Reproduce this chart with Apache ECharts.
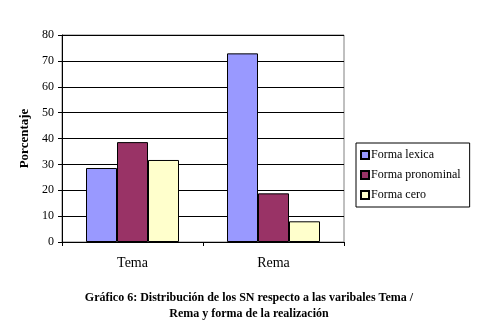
<!DOCTYPE html>
<html>
<head>
<meta charset="utf-8">
<script src="https://cdn.jsdelivr.net/npm/echarts@6/dist/echarts.min.js"></script>
<style>
  html, body { margin: 0; padding: 0; background: #ffffff; }
  #chart { width: 480px; height: 327px; }
</style>
</head>
<body>
<div id="chart"></div>
<script>
// Categories and percentages per form of realisation
const categories = ['Tema', 'Rema'];
const formaLexica = [28.6, 72.9];
const formaPronominal = [38.6, 18.8];
const formaCero = [31.7, 8.0];
const yTicks = { min: 0, max: 80, interval: 10 };

const serif = '"Liberation Serif", "Times New Roman", serif';

const chart = echarts.init(document.getElementById('chart'), null, { renderer: 'canvas' });

function barSeries(name, data, color) {
  return {
    name: name,
    type: 'bar',
    data: data,
    barWidth: 31,
    barGap: '0%',
    itemStyle: { color: color, borderColor: '#000000', borderWidth: 1 },
    emphasis: { disabled: true },
    animation: false
  };
}

chart.setOption({
  backgroundColor: '#ffffff',
  animation: false,
  title: {
    text: 'Gráfico 6: Distribución de los SN respecto a las varibales Tema /\nRema y forma de la realización',
    left: 244,
    textAlign: 'center',
    top: 285,
    textStyle: {
      fontFamily: serif,
      fontSize: 12,
      fontWeight: 'bold',
      color: '#000000',
      lineHeight: 16
    }
  },
  grid: { left: 62, right: 136, top: 35, bottom: 85, show: true, borderColor: '#808080', borderWidth: 1, backgroundColor: 'transparent' },
  legend: {
    orient: 'vertical',
    left: 356,
    top: 143,
    width: 114,
    padding: [6, 9, 6, 4],
    itemGap: 8,
    itemWidth: 8,
    itemHeight: 8,
    icon: 'rect',
    borderColor: '#000000',
    borderWidth: 1,
    backgroundColor: '#ffffff',
    textStyle: { fontFamily: serif, fontSize: 12, color: '#000000', padding: [0, 0, 0, -3] },
    data: ['Forma lexica', 'Forma pronominal', 'Forma cero']
  },
  xAxis: {
    type: 'category',
    data: categories,
    axisLine: { lineStyle: { color: '#000000' } },
    axisTick: { show: true, length: 4, lineStyle: { color: '#000000' } },
    axisLabel: { fontFamily: serif, fontSize: 14, color: '#000000', margin: 14 }
  },
  yAxis: {
    type: 'value',
    min: yTicks.min,
    max: yTicks.max,
    interval: yTicks.interval,
    name: 'Porcentaje',
    nameLocation: 'middle',
    nameGap: 28,
    nameRotate: 90,
    nameTextStyle: { fontFamily: serif, fontSize: 13, fontWeight: 'bold', color: '#000000' },
    axisLine: { show: true, lineStyle: { color: '#000000' } },
    axisTick: { show: true, length: 4, lineStyle: { color: '#000000' } },
    axisLabel: { fontFamily: serif, fontSize: 12, color: '#000000', margin: 8 },
    splitLine: { show: true, lineStyle: { color: '#000000', width: 1 } }
  },
  series: [
    barSeries('Forma lexica', formaLexica, '#9999ff'),
    barSeries('Forma pronominal', formaPronominal, '#993366'),
    barSeries('Forma cero', formaCero, '#ffffcc')
  ]
});
</script>
</body>
</html>
